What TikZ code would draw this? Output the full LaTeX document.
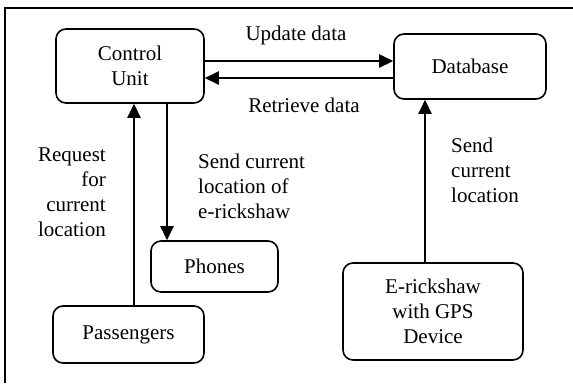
\documentclass[tikz,border=0pt]{standalone}
\usepackage{fontspec}
\setmainfont{Liberation Serif}
\usetikzlibrary{arrows.meta}
\begin{document}
\begin{tikzpicture}[x=1pt,y=-1pt,
  box/.style={draw,line width=1.6pt,rounded corners=10pt,inner sep=0pt,align=center},
  conn/.style={line width=2.6pt,-{Triangle[length=14pt,width=13pt]}},
  lbl/.style={inner sep=0pt,font=\fontsize{21}{25}\selectfont},
  every node/.style={font=\fontsize{21}{25}\selectfont}]
\useasboundingbox (0,0) rectangle (573,383);
\draw[line width=1.5pt] (5,383) -- (5,8) -- (573,8);
\node[box,minimum width=148pt,minimum height=74pt] (cu) at (130,66) {Control\\Unit};
\node[box,minimum width=152pt,minimum height=65pt] (db) at (470,66.5) {Database};
\node[box,minimum width=127pt,minimum height=51pt] (ph) at (214.5,266.5) {Phones};
\node[box,minimum width=151pt,minimum height=57pt] (pa) at (128.5,334.5) {Passengers};
\node[box,minimum width=180pt,minimum height=97pt] (er) at (433,311.5) {E-rickshaw\\with GPS\\Device};
\draw[conn] (cu.east |- 0,61) -- (db.west |- 0,61);
\draw[conn] (db.west |- 0,78) -- (cu.east |- 0,78);
\draw[conn] (cu.south -| 167,0) -- (ph.north -| 167,0);
\draw[conn] (pa.north -| 134,0) -- (cu.south -| 134,0);
\draw[conn] (er.north -| 425,0) -- (db.south -| 425,0);
\node[lbl] (ud) at (296,35) {Update data};
\node[lbl] (rd) at (304,105) {Retrieve data};
\node[lbl,align=right,anchor=north east] (rq) at (106,148) {Request\\for\\current\\location};
\node[lbl,align=left,anchor=north west] (sc) at (198,154) {Send current\\location of\\e-rickshaw};
\node[lbl,align=left,anchor=north west] (sl) at (451,138) {Send\\current\\location};
\end{tikzpicture}
\end{document}
